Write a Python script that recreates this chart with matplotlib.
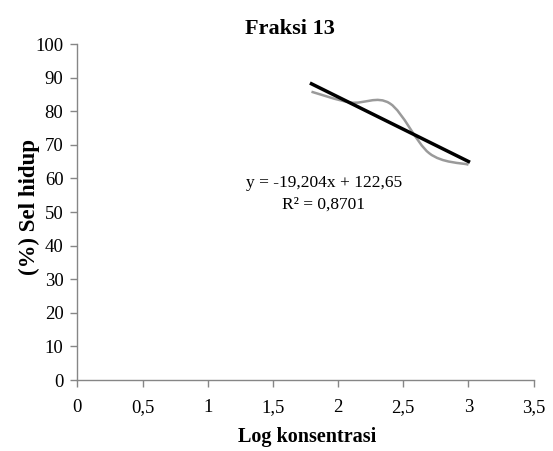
"""
Fraksi 13: persentase sel hidup vs log konsentrasi, dengan garis tren linear
"""
import numpy as np
import matplotlib
matplotlib.use("Agg")
import matplotlib.pyplot as plt
from matplotlib.path import Path
from matplotlib.patches import PathPatch

# data
log_konsentrasi = [1.796, 2.097, 2.398, 2.699, 3.0]
sel_hidup = [85.8, 82.6, 82.3, 67.5, 64.1]
slope, intercept = -19.204, 122.65
r2 = 0.8701

x_ticks = [0, 0.5, 1, 1.5, 2, 2.5, 3, 3.5]
x_labels = ["0", "0,5", "1", "1,5", "2", "2,5", "3", "3,5"]
y_ticks = [0, 10, 20, 30, 40, 50, 60, 70, 80, 90, 100]

plt.rcParams['font.family'] = ['Liberation Serif', 'DejaVu Serif']

fig = plt.figure(figsize=(5.53, 4.51), dpi=100)
ax = fig.add_axes([0.1398, 0.1574, 0.8252, 0.745])


def smooth_path(xs, ys):
    # garis halus ala Excel (Bezier Catmull-Rom)
    pts = np.column_stack([xs, ys])
    n = len(pts)
    verts = [pts[0]]
    codes = [Path.MOVETO]
    for i in range(n - 1):
        p0 = pts[max(i - 1, 0)]
        p1 = pts[i]
        p2 = pts[i + 1]
        p3 = pts[min(i + 2, n - 1)]
        verts += [p1 + (p2 - p0) / 6.0, p2 - (p3 - p1) / 6.0, p2]
        codes += [Path.CURVE4] * 3
    return Path(verts, codes)


ax.add_patch(PathPatch(smooth_path(log_konsentrasi, sel_hidup), facecolor='none',
                       edgecolor='#9a9a9a', linewidth=1.8, zorder=2))

# garis tren
xt = np.array([log_konsentrasi[0], log_konsentrasi[-1]])
ax.plot(xt, slope * xt + intercept, color='black', linewidth=2.5, zorder=3)

persamaan = f"y = {slope:.3f}x + {intercept:.2f}".replace(".", ",")
r_kuadrat = f"R² = {r2:.4f}".replace(".", ",")
ax.text(1.89, 55.4, persamaan + "\n" + r_kuadrat,
        ha='center', va='center', fontsize=12.5, linespacing=1.45)

ax.set_xlim(0, 3.5)
ax.set_ylim(0, 100)
ax.set_xticks(x_ticks)
ax.set_xticklabels(x_labels)
ax.set_yticks(y_ticks)

for s in ['top', 'right']:
    ax.spines[s].set_visible(False)
for s in ['left', 'bottom']:
    ax.spines[s].set_color('#868686')
    ax.spines[s].set_linewidth(1.0)
ax.tick_params(direction='out', length=5, width=1, color='#868686', labelsize=13.5)
ax.tick_params(axis='x', pad=9)
ax.tick_params(axis='y', pad=5)

fig.text(290 / 553, 1 - 34 / 451, "Fraksi 13", ha='center', va='baseline',
         fontsize=16, fontweight='bold')
ax.set_xlabel("Log konsentrasi", fontsize=14.5, fontweight='bold')
ax.xaxis.set_label_coords(0.503, -0.17)
ax.xaxis.label.set_va('center')
ax.set_ylabel("(%) Sel hidup", fontsize=16.5, fontweight='bold')
ax.yaxis.set_label_coords(-0.106, 0.516)
ax.yaxis.label.set_va('center')

fig.savefig("out.png", dpi=100)
